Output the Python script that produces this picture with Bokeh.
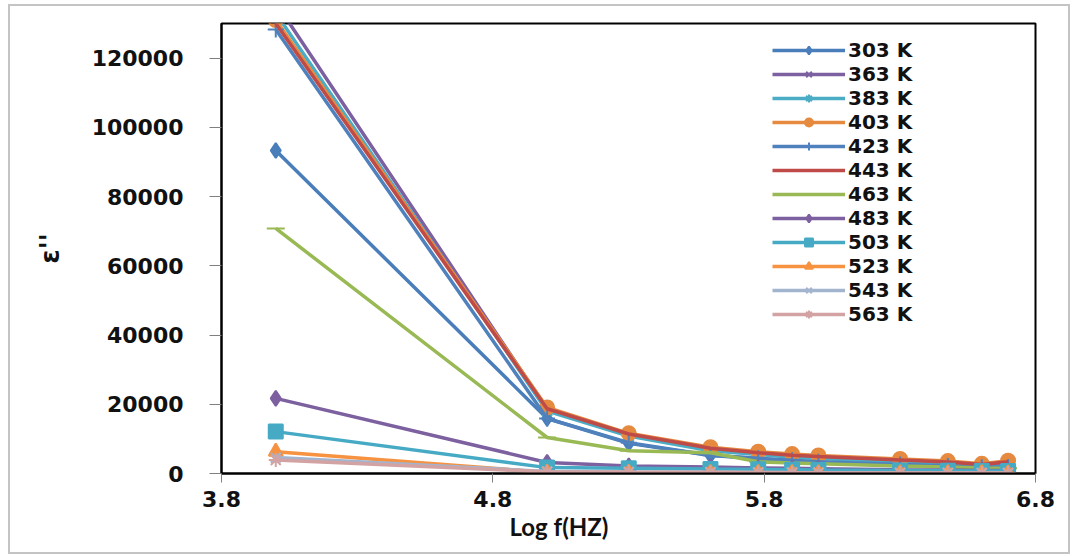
from bokeh.plotting import figure
from bokeh.models import FixedTicker, BasicTickFormatter, Legend, Title, Range1d
from bokeh.embed import file_html
from bokeh.resources import INLINE

# ---- data ----
log_f = [4.0, 5.0, 5.301, 5.602, 5.778, 5.903, 6.0, 6.301, 6.477, 6.602, 6.699]

temps = ["303 K", "363 K", "383 K", "403 K", "423 K", "443 K",
         "463 K", "483 K", "503 K", "523 K", "543 K", "563 K"]

eps_303 = [93300, 15900, 8700, 5200, 4300, 3600, 3200, 2400, 2000, 1700, 1600]
eps_363 = [136000, 18500, 11200, 7000, 5800, 5000, 4600, 3500, 3000, 2200, 2900]
eps_383 = [133000, 18000, 10800, 6600, 5500, 4700, 4300, 3300, 2600, 1500, 2400]
eps_403 = [131000, 19100, 11600, 7600, 6300, 5600, 5200, 4200, 3600, 2800, 3700]
eps_423 = [128300, 15900, 8900, 5300, 4400, 3800, 3400, 2600, 2200, 1800, 1900]
eps_443 = [130000, 18700, 11400, 7300, 6000, 5300, 4900, 3900, 3300, 2600, 3400]
eps_463 = [70800, 10400, 6600, 6000, 3400, 3000, 2800, 2200, 1900, 1600, 1500]
eps_483 = [21700, 3200, 2200, 1900, 1600, 1500, 1400, 1100, 1000, 900, 900]
eps_503 = [12100, 1700, 1500, 1300, 1200, 1100, 1000, 900, 800, 700, 700]
eps_523 = [6300, 300, 250, 200, 180, 160, 150, 120, 100, 90, 80]
eps_543 = [4600, 600, 450, 380, 320, 280, 250, 200, 170, 150, 140]
eps_563 = [3900, 500, 400, 330, 280, 250, 220, 180, 150, 130, 120]

series = [eps_303, eps_363, eps_383, eps_403, eps_423, eps_443,
          eps_463, eps_483, eps_503, eps_523, eps_543, eps_563]

x_ticks = [3.8, 4.8, 5.8, 6.8]
y_ticks = [0, 20000, 40000, 60000, 80000, 100000, 120000]

# ---- styles ----
colors = ["#4A7EBB", "#7D60A0", "#4BACC6", "#E58A3F", "#4F81BD", "#BE4B48",
          "#98B954", "#7D60A0", "#46AAC5", "#F69240", "#A3B4CE", "#D3A3A3"]
markers = ["diamond", "x", "asterisk", "circle", "cross", None,
           "dash", "diamond", "square", "triangle", "x", "asterisk"]
msizes = [15, 14, 14, 14, 16, 0, 18, 15, 14, 14, 14, 14]

p = figure(width=1058, height=546, output_backend="svg", toolbar_location=None,
           x_range=Range1d(3.8, 6.8), y_range=Range1d(0, 130000),
           min_border_left=211, min_border_right=33, min_border_top=17,
           min_border_bottom=79)
p.margin = (6, 8, 4, 10)
p.styles = {"outline": "2px solid #c4c4c4"}

p.xgrid.visible = False
p.ygrid.visible = False
p.outline_line_color = "black"
p.outline_line_width = 2
p.background_fill_color = "white"
p.border_fill_color = "white"

p.xaxis.ticker = FixedTicker(ticks=x_ticks)
p.yaxis.ticker = FixedTicker(ticks=y_ticks)
p.yaxis.formatter = BasicTickFormatter(use_scientific=False)
for ax in (p.xaxis, p.yaxis):
    ax.axis_line_color = "black"
    ax.axis_line_width = 2
    ax.major_tick_line_color = "#808080"
    ax.major_tick_line_width = 1
    ax.minor_tick_line_color = None
    ax.major_tick_in = 0
    ax.major_label_text_font = "DejaVu Sans"
    ax.major_label_text_font_style = "bold"
    ax.major_label_text_font_size = "22px"
    ax.major_label_text_color = "#111111"
p.yaxis.major_tick_out = 12
p.xaxis.major_tick_out = 9
p.yaxis.major_label_standoff = 26
p.xaxis.major_label_standoff = 8

p.yaxis.axis_label = "ε''"
p.yaxis.axis_label_text_font = "DejaVu Sans"
p.yaxis.axis_label_text_font_style = "bold"
p.yaxis.axis_label_text_font_size = "26px"
p.yaxis.axis_label_text_color = "#111111"
p.yaxis.axis_label_standoff = 24

items = []
for name, ys, col, mk, ms in zip(temps, series, colors, markers, msizes):
    r = p.line(log_f, ys, line_color=col, line_width=3.5)
    rs = [r]
    if mk is not None:
        s = p.scatter(log_f, ys, marker=mk, size=ms, fill_color=col,
                      line_color=col, line_width=2)
        rs.append(s)
    items.append((name, rs))

legend = Legend(items=items, location=(546, 142), orientation="vertical")
legend.glyph_width = 73
legend.glyph_height = 20
legend.label_height = 20
legend.spacing = 0
legend.padding = 5
legend.margin = 0
legend.label_standoff = 3
legend.label_text_font = "DejaVu Sans"
legend.label_text_font_style = "bold"
legend.label_text_font_size = "20px"
legend.label_text_color = "#111111"
legend.border_line_alpha = 0
legend.background_fill_color = "white"
legend.background_fill_alpha = 1
p.add_layout(legend)

x_title = Title(text="Log f(HZ)", align="left", offset=288, standoff=0,
                text_font="Lato", text_font_style="bold",
                text_font_size="24px", text_color="#111111")
p.add_layout(x_title, "below")

open("out.html", "w").write(file_html(p, INLINE))
